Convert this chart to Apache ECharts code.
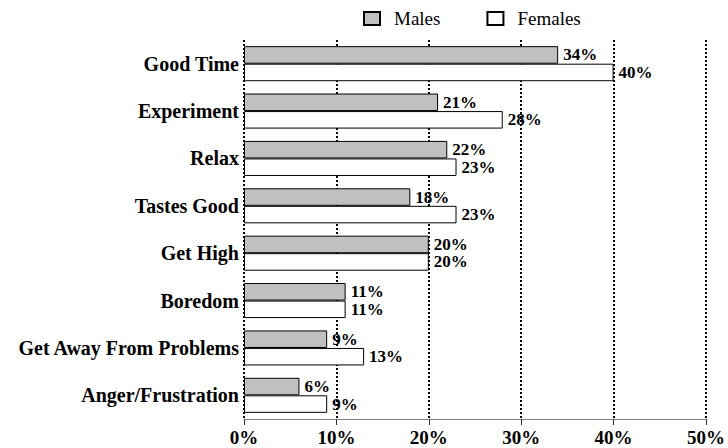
<!DOCTYPE html>
<html>
<head>
<meta charset="utf-8">
<script src="https://cdn.jsdelivr.net/npm/echarts@6/dist/echarts.min.js"></script>
<style>
  html, body { margin: 0; padding: 0; background: #fff; }
  #chart { width: 728px; height: 448px; }
</style>
</head>
<body>
<div id="chart"></div>
<script>
var categories = ['Good Time', 'Experiment', 'Relax', 'Tastes Good', 'Get High', 'Boredom', 'Get Away From Problems', 'Anger/Frustration'];
var males = [34, 21, 22, 18, 20, 11, 9, 6];
var females = [40, 28, 23, 23, 20, 11, 13, 9];
var xTicks = [0, 10, 20, 30, 40, 50];

var serif = '"Liberation Serif", "Times New Roman", serif';

var chart = echarts.init(document.getElementById('chart'), null, { renderer: 'svg' });

function labelStyle() {
  return {
    show: true,
    position: 'right',
    distance: 5,
    formatter: '{c}%',
    color: '#000',
    fontFamily: serif,
    fontWeight: 'bold',
    fontSize: 17
  };
}

chart.setOption({
  animation: false,
  legend: {
    data: ['Males', 'Females'],
    top: 9,
    left: 363,
    padding: 0,
    icon: 'rect',
    itemWidth: 16,
    itemHeight: 13,
    itemGap: 46,
    textStyle: { color: '#000', fontFamily: serif, fontSize: 19, padding: [0, 0, 0, 9] }
  },
  grid: { left: 244, right: 20, top: 40, bottom: 29, containLabel: false },
  xAxis: {
    type: 'value',
    min: xTicks[0],
    max: xTicks[xTicks.length - 1],
    interval: 10,
    axisLine: { show: true, lineStyle: { color: '#808080', width: 1 } },
    axisTick: { show: true, length: 6, lineStyle: { color: '#333' } },
    axisLabel: {
      formatter: '{value}%',
      color: '#000',
      fontFamily: serif,
      fontWeight: 'bold',
      fontSize: 19,
      margin: 9
    },
    splitLine: { show: true, lineStyle: { color: '#000', type: [2, 2], width: 2 } }
  },
  yAxis: {
    type: 'category',
    data: categories,
    inverse: true,
    axisLine: { show: false },
    axisTick: { show: false },
    axisLabel: {
      color: '#000',
      fontFamily: serif,
      fontWeight: 'bold',
      fontSize: 20,
      margin: 5
    }
  },
  series: [
    {
      name: 'Males',
      type: 'bar',
      data: males,
      barGap: '0%',
      barCategoryGap: '26%',
      itemStyle: { color: '#c0c0c0', borderColor: '#000', borderWidth: 1 },
      label: labelStyle()
    },
    {
      name: 'Females',
      type: 'bar',
      data: females,
      itemStyle: { color: '#fff', borderColor: '#000', borderWidth: 1 },
      label: labelStyle()
    }
  ]
});

window.addEventListener('resize', function() { chart.resize(); });
</script>
</body>
</html>
